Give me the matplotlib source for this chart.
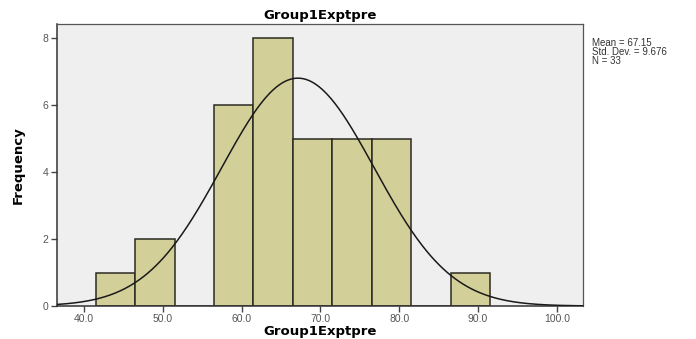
import numpy as np
import matplotlib
matplotlib.use('Agg')
import matplotlib.pyplot as plt

# histogram of Group1Exptpre scores
bin_left = [41.5, 46.5, 51.5, 56.5, 61.5, 66.5, 71.5, 76.5, 81.5, 86.5]
counts = [1, 2, 0, 6, 8, 5, 5, 5, 0, 1]
bin_width = 5.0

mean = 67.15
sd = 9.676
n = 33

xticks = [40, 50, 60, 70, 80, 90, 100]
yticks = [0, 2, 4, 6, 8]

plt.rcParams['font.family'] = ['Liberation Sans', 'DejaVu Sans']

fig = plt.figure(figsize=(6.96, 3.39), dpi=100)
ax = fig.add_axes([57/696, 1-306/339, 526/696, 282/339])
ax.set_facecolor('#efefef')

ax.bar(bin_left, counts, width=bin_width, align='edge',
       color='#d3cf98', edgecolor='#2b2b22', linewidth=1.1, zorder=2)

# normal curve scaled to counts
x = np.linspace(36.6, 103.3, 400)
y = n*bin_width/(sd*np.sqrt(2*np.pi))*np.exp(-0.5*((x-mean)/sd)**2)
ax.plot(x, y, color='#1a1a1a', linewidth=1.1, zorder=3)

ax.set_xlim(36.6, 103.3)
ax.set_ylim(0, 8.42)
ax.set_xticks(xticks)
ax.set_xticklabels(['%.1f' % v for v in xticks])
ax.set_yticks(yticks)
ax.tick_params(direction='out', length=4, width=1, colors='#444444',
               labelsize=7.5, labelcolor='#555555', pad=2)
for s in ['left', 'bottom']:
    ax.spines[s].set_color('#333333')
    ax.spines[s].set_linewidth(1.1)
for s in ['top', 'right']:
    ax.spines[s].set_color('#555555')
    ax.spines[s].set_linewidth(0.9)

fig.text(320/696, 1-15/339, 'Group1Exptpre', ha='center', va='center',
         fontsize=9.5, fontweight='bold', family='DejaVu Sans')
fig.text(320/696, 1-332/339, 'Group1Exptpre', ha='center', va='center',
         fontsize=9.5, fontweight='bold', family='DejaVu Sans')
fig.text(18/696, 1-165/339, 'Frequency', ha='center', va='center',
         rotation=90, fontsize=9.5, fontweight='bold', family='DejaVu Sans')

fig.text(592/696, 1-38/339,
         'Mean = %.2f\nStd. Dev. = %.3f\nN = %d' % (mean, sd, n),
         ha='left', va='top', fontsize=7, color='#333333', linespacing=0.85)

fig.savefig('out.png', dpi=100)
